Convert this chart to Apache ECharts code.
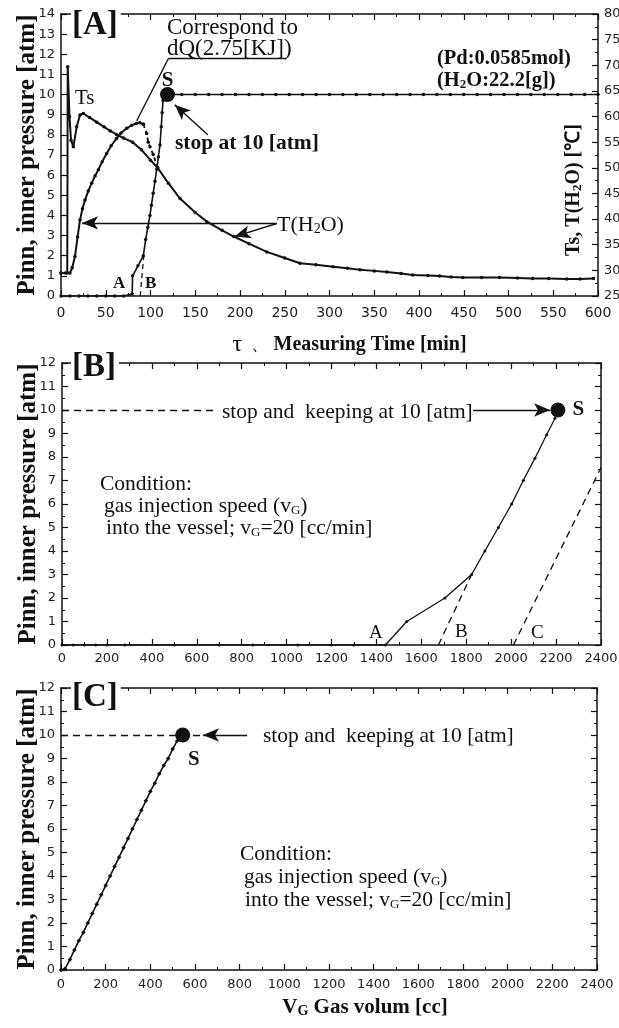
<!DOCTYPE html>
<html>
<head>
<meta charset="utf-8">
<script src="https://cdn.jsdelivr.net/npm/echarts@6/dist/echarts.min.js"></script>
<style>
html, body { margin: 0; padding: 0; background: #fff; }
#main { width: 619px; height: 1028px; }
</style>
</head>
<body>
<div id="main"></div>
<script>
// [A] 压力 (atm) - 时间 (min)
var aPressure = [[0,0],[10,0],[20,0],[30,0],[40,0],[50,0],[60,0],[70,0],[79.5,0.1],[80,1.0],[86,1.5],[92,2.0],
    [94.6,2.8],[97,3.4],[99.4,4.0],[101,4.5],[103,5.1],[105,5.7],[107,6.3],[108.8,6.9],[110.6,7.5],[112,8.4],
    [113,9.1],[114,9.7],[115,10],[120,10],[135,10],[150,10],[165,10],[180,10],[195,10],[210,10],[225,10],
    [240,10],[255,10],[270,10],[285,10],[300,10],[315,10],[330,10],[345,10],[360,10],[375,10],[390,10],
    [405,10],[420,10],[435,10],[450,10],[465,10],[480,10],[495,10],[510,10],[525,10],[540,10],[555,10],
    [570,10],[585,10],[600,10]];
var aPressureB = [[88.5,0],[92.5,2.0]];
var aStop = [[119,10]];
// [A] 温度 (℃)
var aTs = [[0,29.5],[7,29.5],[7.5,69.7],[9.5,60],[11.2,55.4],[13.8,54.1],[17.5,58],[21.2,60.3],[25,60.6],
    [32,59.8],[40,58.9],[48,58],[55,57.2],[62,56.5],[70,55.8],[80,55],[90,53.5],[100,51.5],[108,50],
    [120,47],[133,44],[150,41.3],[163,39.5],[180,37.8],[193,36.6],[210,35.2],[230,33.6],[250,32.4],
    [267,31.4],[285,31.1],[304,30.7],[320,30.4],[334,30.1],[350,29.9],[364,29.7],[380,29.4],[393,29.1],
    [410,29.0],[423,28.9],[436,28.7],[449,28.6],[470,28.6],[490,28.6],[510,28.5],[527,28.4],[545,28.4],
    [565,28.3],[580,28.3],[595,28.4]];
var aWaterRise = [[0,29.5],[5,29.5],[10,29.5],[12.5,30.5],[15.6,32.7],[18.5,36.5],[21.2,39.8],[24,42],
    [26.8,43.7],[30.5,45.5],[34.3,47],[38,48.4],[41.7,49.6],[46,51.2],[51,52.8],[56,54.3],[62,55.7],
    [67,56.8],[73.4,57.7],[79,58.3],[84.6,58.7],[88,58.8],[92,58.5]];
var aWaterDrop = [[92,58.5],[95.7,56.7],[97.5,55],[99.4,54.1],[103,52.6],[108,50]];

// [B] 压力 - 气体体积 (cc)
var bPressure = [[0,0],[50,0],[100,0],[150,0],[200,0],[280,0],[500,0],[700,0],[850,0],[1050,0],[1200,0],
    [1300,0],[1440,0],[1535,1.0],[1705,2.0],[1824,3.0],[1883,4.0],[1943,5.0],[2002,6.0],[2054,7.0],
    [2106,7.95],[2158,8.95],[2195,9.65],[2208,10]];
var bDashB = [[1676,0],[1824,3.0]];
var bDashC = [[2010,0],[2400,7.55]];
var bStop = [[2208,10]];

// [C]
var cPressure = [[0,0],[18,0.05],[40,0.45],[60,0.85],[80,1.25],[100,1.6],[120,2.0],[140,2.4],[160,2.8],
    [180,3.2],[200,3.6],[220,4.0],[240,4.4],[260,4.8],[280,5.2],[300,5.6],[320,6.0],[340,6.4],[360,6.8],
    [380,7.2],[400,7.6],[420,7.95],[440,8.35],[460,8.7],[480,9.0],[500,9.4],[520,9.75],[540,10.0]];
var cStop = [[545,10]];

var ink = '#111';
var serif = 'Liberation Serif';
var sans = 'DejaVu Sans';

var myChart = echarts.init(document.getElementById('main'));

function plain(v) { return String(v); }

function bottomAxis(grid, max, interval, fontSize, margin) {
    return {
        gridIndex: grid, type: 'value', min: 0, max: max, interval: interval,
        axisLine: { show: true, onZero: false, lineStyle: { color: ink, width: 1.5 } },
        axisTick: { inside: true, length: 6, lineStyle: { color: ink, width: 1.2 } },
        minorTick: { show: true, splitNumber: 2, length: 3, lineStyle: { color: ink } },
        axisLabel: { color: '#222', fontFamily: sans, fontSize: fontSize, margin: margin, formatter: plain },
        splitLine: { show: false }
    };
}
function topAxis(grid, max, interval) {
    return {
        gridIndex: grid, type: 'value', position: 'top', min: 0, max: max, interval: interval,
        axisLine: { show: true, onZero: false, lineStyle: { color: ink, width: 1.5 } },
        axisTick: { inside: true, length: 6, lineStyle: { color: ink, width: 1.2 } },
        minorTick: { show: true, splitNumber: 2, length: 3, lineStyle: { color: ink } },
        axisLabel: { show: false },
        splitLine: { show: false }
    };
}
function sideAxis(grid, pos, min, max, interval, showLabel, minor) {
    return {
        gridIndex: grid, type: 'value', position: pos, min: min, max: max, interval: interval,
        axisLine: { show: true, onZero: false, lineStyle: { color: ink, width: 1.5 } },
        axisTick: { show: true, inside: true, length: 6, lineStyle: { color: ink, width: 1.2 } },
        minorTick: { show: minor, splitNumber: 2, length: 3, lineStyle: { color: ink } },
        axisLabel: { show: showLabel, color: '#222', fontFamily: sans, fontSize: 13, margin: 6, formatter: plain },
        splitLine: { show: false }
    };
}
var yName = 'Pinn, inner pressure [atm]';
var yNameStyle = { fontFamily: serif, fontWeight: 'bold', fontSize: 25, color: ink };

var xAxes = [
    bottomAxis(0, 600, 50, 14, 10),
    bottomAxis(1, 2400, 200, 13, 7),
    bottomAxis(2, 2400, 200, 13, 8),
    topAxis(0, 600, 50),
    topAxis(1, 2400, 200),
    topAxis(2, 2400, 200)
];
xAxes[0].name = '{t|τ}{c|  、 }{m|Measuring Time [min]}';
xAxes[0].nameLocation = 'middle';
xAxes[0].nameGap = 37;
xAxes[0].nameMoveOverlap = false;
xAxes[0].nameTextStyle = { padding: [0, 0, 0, 40], rich: {
    t: { fontFamily: serif, fontSize: 24, color: ink },
    c: { fontFamily: serif, fontSize: 18, color: ink },
    m: { fontFamily: serif, fontWeight: 'bold', fontSize: 20, color: ink }
} };
xAxes[2].name = '{v|V}{g|G}{v| Gas volum [cc]}';
xAxes[2].nameLocation = 'middle';
xAxes[2].nameGap = 27;
xAxes[2].nameMoveOverlap = false;
xAxes[2].nameTextStyle = { padding: [0, 0, 0, 72], rich: {
    v: { fontFamily: serif, fontWeight: 'bold', fontSize: 21, color: ink },
    g: { fontFamily: serif, fontWeight: 'bold', fontSize: 14, color: ink, verticalAlign: 'bottom' }
} };

var yAxes = [
    sideAxis(0, 'left', 0, 14, 1, true, false),
    sideAxis(0, 'right', 25, 80, 5, true, true),
    sideAxis(1, 'left', 0, 12, 1, true, true),
    sideAxis(1, 'right', 0, 12, 1, false, true),
    sideAxis(2, 'left', 0, 12, 1, true, true),
    sideAxis(2, 'right', 0, 12, 1, false, true)
];
[0, 2, 4].forEach(function (i) {
    yAxes[i].name = yName;
    yAxes[i].nameLocation = 'middle';
    yAxes[i].nameGap = 21;
    yAxes[i].nameMoveOverlap = false;
    yAxes[i].nameTextStyle = yNameStyle;
});

function curve(name, x, y, data, opts) {
    opts = opts || {};
    return {
        name: name, type: 'line', xAxisIndex: x, yAxisIndex: y, data: data,
        symbol: opts.symbol || 'circle', symbolSize: opts.size === undefined ? 3.5 : opts.size,
        showSymbol: true,
        itemStyle: { color: ink },
        lineStyle: { color: ink, width: opts.width || 1.6, type: opts.type || 'solid' },
        z: 3,
        markLine: opts.markLine
    };
}
function stopDot(x, y, data, pos, offset) {
    return {
        type: 'scatter', xAxisIndex: x, yAxisIndex: y, data: data, symbolSize: 15,
        itemStyle: { color: ink, opacity: 1 }, z: 5,
        label: { show: true, formatter: 'S', position: pos, offset: offset,
            fontFamily: serif, fontWeight: 'bold', fontSize: 21, color: ink }
    };
}
// 标注线
function seg(a, b, arrow, dashed) {
    return [
        { coord: a, symbol: 'none', lineStyle: { type: dashed ? [7, 5] : 'solid', color: ink, width: 1.4 } },
        { coord: b, symbol: arrow ? 'arrow' : 'none' }
    ];
}
function marks(list) {
    return { silent: true, animation: false, symbolSize: [10, 16], label: { show: false },
        lineStyle: { color: ink, width: 1.4, type: 'solid' }, data: list };
}

// 文字标注 (x: 左边, y: 中线)
var txt = function (x, y, text, size, bold, extra) {
    var w = bold ? 'bold' : 'normal';
    var o = {
        type: 'text', x: x, y: y, z: 50,
        style: { text: text, fontFamily: serif, fontSize: size, fontWeight: w, fill: ink,
            align: 'left', verticalAlign: 'middle',
            rich: { s: { fontFamily: serif, fontSize: Math.round(size * 0.62), fontWeight: w,
                fill: ink, verticalAlign: 'bottom' } } }
    };
    if (extra) { for (var k in extra) o.style[k] = extra[k]; }
    return o;
};
var boxed = { backgroundColor: '#fff', padding: [0, 3, 0, 1] };

option = {
    animation: false,
    backgroundColor: '#fff',
    grid: [
        { left: 61, top: 14, width: 537, height: 282, outerBoundsMode: 'none' },
        { left: 62, top: 363, width: 539, height: 282, outerBoundsMode: 'none' },
        { left: 61, top: 688, width: 536, height: 282, outerBoundsMode: 'none' }
    ],
    xAxis: xAxes,
    yAxis: yAxes,
    series: [
        curve('Pinn', 0, 0, aPressure, { markLine: marks([
            seg([241, 3.63], [23.5, 3.63], true),
            seg([241, 3.6], [194, 2.95], true),
            seg([164, 8.0], [127, 9.5], true),
            seg([251.4, 11.78], [119.9, 11.78], false),
            seg([119.9, 11.78], [84.6, 8.7], false)
        ]) }),
        curve('PinnB', 0, 0, aPressureB, { type: [5, 4], size: 0, width: 1.3 }),
        curve('Ts', 0, 1, aTs, { width: 2 }),
        curve('T(H2O)', 0, 1, aWaterRise, { width: 2 }),
        curve('T(H2O) drop', 0, 1, aWaterDrop, { width: 1.8, type: [4, 3] }),
        stopDot(0, 0, aStop, 'top', [0, 9]),

        curve('B', 1, 2, bPressure, { size: 3, width: 1.3, markLine: marks([
            seg([0, 10], [695, 10], false, true),
            seg([1830, 10], [2173, 10], true)
        ]) }),
        curve('B dash', 1, 2, bDashB, { type: [7, 5], size: 0, width: 1.3 }),
        curve('C dash', 1, 2, bDashC, { type: [7, 5], size: 0, width: 1.3 }),
        stopDot(1, 2, bStop, 'right', [2, 0]),

        curve('C', 2, 4, cPressure, { symbol: 'diamond', size: 4.5, width: 1.6, markLine: marks([
            seg([0, 10], [630, 10], false, true),
            seg([833, 10], [636, 10], true)
        ]) }),
        stopDot(2, 4, cStop, 'bottom', [11, 2])
    ],
    graphic: [
        // [A]
        txt(71, 25, '[A]', 33, true, boxed),
        txt(167, 28, 'Correspond to', 23, false),
        txt(167, 49, 'dQ(2.75[KJ])', 23, false),
        txt(175, 143, 'stop at 10 [atm]', 21.5, true),
        txt(75, 98, 'Ts', 21, false),
        txt(437, 59, '(Pd:0.0585mol)', 20.5, true),
        txt(437, 81, '(H{s|2}O:22.2[g])', 20.5, true),
        txt(277, 225, 'T(H{s|2}O)', 22, false),
        txt(113, 284, 'A', 17, true),
        txt(145, 284, 'B', 17, true),
        {
            type: 'text', x: 574, y: 190, rotation: Math.PI / 2, z: 50,
            style: { text: 'Ts, T(H{s|2}O) [℃]', fontFamily: serif, fontWeight: 'bold', fontSize: 20, fill: ink,
                align: 'center', verticalAlign: 'middle',
                rich: { s: { fontFamily: serif, fontWeight: 'bold', fontSize: 13, fill: ink, verticalAlign: 'bottom' } } }
        },
        // [B]
        txt(71, 367, '[B]', 33, true, boxed),
        txt(222, 412, 'stop and  keeping at 10 [atm]', 21.5, false),
        txt(100, 484, 'Condition:', 21.5, false),
        txt(104, 506, 'gas injection speed (v{s|G})', 21.5, false),
        txt(106, 528, 'into the vessel; v{s|G}=20 [cc/min]', 21.5, false),
        txt(369, 633, 'A', 19, false),
        txt(455, 632, 'B', 19, false),
        txt(531, 633, 'C', 19, false),
        // [C]
        txt(71, 697, '[C]', 33, true, boxed),
        txt(263, 736, 'stop and  keeping at 10 [atm]', 21.5, false),
        txt(240, 854, 'Condition:', 21.5, false),
        txt(244, 877, 'gas injection speed (v{s|G})', 21.5, false),
        txt(245, 900, 'into the vessel; v{s|G}=20 [cc/min]', 21.5, false)
    ]
};

myChart.setOption(option);
</script>
</body>
</html>
